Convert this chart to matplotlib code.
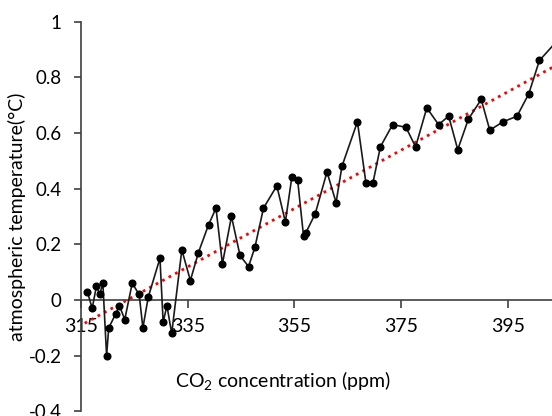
import numpy as np
import matplotlib
matplotlib.use('Agg')
import matplotlib.pyplot as plt

# CO2 concentration (ppm) vs atmospheric temperature (°C)
co2 = [316.2, 317.1, 317.9, 318.5, 319.1, 319.8, 320.2, 321.5, 322.2, 323.2,
       324.6, 325.9, 326.6, 327.6, 329.8, 330.4, 331.1, 332.0, 333.9, 335.5,
       337.0, 338.9, 340.3, 341.5, 343.2, 344.8, 346.4, 347.6, 349.2, 351.7,
       353.3, 354.5, 355.6, 356.7, 357.1, 358.9, 361.1, 362.8, 363.9, 366.8,
       368.4, 369.7, 371.1, 373.4, 375.9, 377.7, 379.8, 382.0, 383.9, 385.6,
       387.6, 390.0, 391.6, 394.1, 396.7, 398.9, 400.9, 404.2]
temp = [0.03, -0.03, 0.05, 0.02, 0.06, -0.20, -0.10, -0.05, -0.02, -0.07,
        0.06, 0.02, -0.10, 0.01, 0.15, -0.08, -0.02, -0.12, 0.18, 0.07,
        0.17, 0.27, 0.33, 0.13, 0.30, 0.16, 0.12, 0.19, 0.33, 0.41,
        0.28, 0.44, 0.43, 0.23, 0.24, 0.31, 0.46, 0.35, 0.48, 0.64,
        0.42, 0.42, 0.55, 0.63, 0.62, 0.55, 0.69, 0.63, 0.66, 0.54,
        0.65, 0.72, 0.61, 0.64, 0.66, 0.74, 0.86, 0.93]
xticks = [315, 335, 355, 375, 395]
yticks = [-0.4, -0.2, 0, 0.2, 0.4, 0.6, 0.8, 1]
ytick_labels = ['-0.4', '-0.2', '0', '0.2', '0.4', '0.6', '0.8', '1']

plt.rcParams['font.family'] = ['Lato', 'DejaVu Sans']
plt.rcParams['mathtext.default'] = 'regular'

fig = plt.figure(figsize=(5.52, 4.16), dpi=100)
ax = fig.add_axes([0.1467, 0.011, 0.8533, 0.9373])

ax.plot(co2, temp, color='#1a1a1a', lw=1.2, marker='o', ms=4.8,
        markerfacecolor='black', markeredgecolor='black', zorder=3)

# linear trend line
k, b = np.polyfit(co2, temp, 1)
xs = np.array([315.7, max(co2)])
ax.plot(xs, k * xs + b, color='red', lw=2, linestyle=':', zorder=2)

ax.set_xlim(315, 403.26)
ax.set_ylim(-0.4, 1)

ax.spines['right'].set_visible(False)
ax.spines['top'].set_visible(False)
ax.spines['bottom'].set_position(('data', 0))
for s in ['left', 'bottom']:
    ax.spines[s].set_color('#404040')
    ax.spines[s].set_linewidth(1.2)

ax.set_xticks(xticks)
ax.set_yticks(yticks)
ax.set_yticklabels(ytick_labels)
ax.tick_params(axis='x', direction='out', length=6, width=1.2, color='#404040',
               labelsize=14, pad=7)
ax.tick_params(axis='y', direction='out', length=5, width=1.2, color='#404040',
               labelsize=13.5, pad=9)

ax.set_ylabel('atmospheric temperature(°C)', fontsize=14, labelpad=2)
fig.text(283 / 552, 1 - 381 / 416, 'CO$_2$ concentration (ppm)', fontsize=14,
         ha='center', va='center')

plt.savefig('out.png', dpi=100)
